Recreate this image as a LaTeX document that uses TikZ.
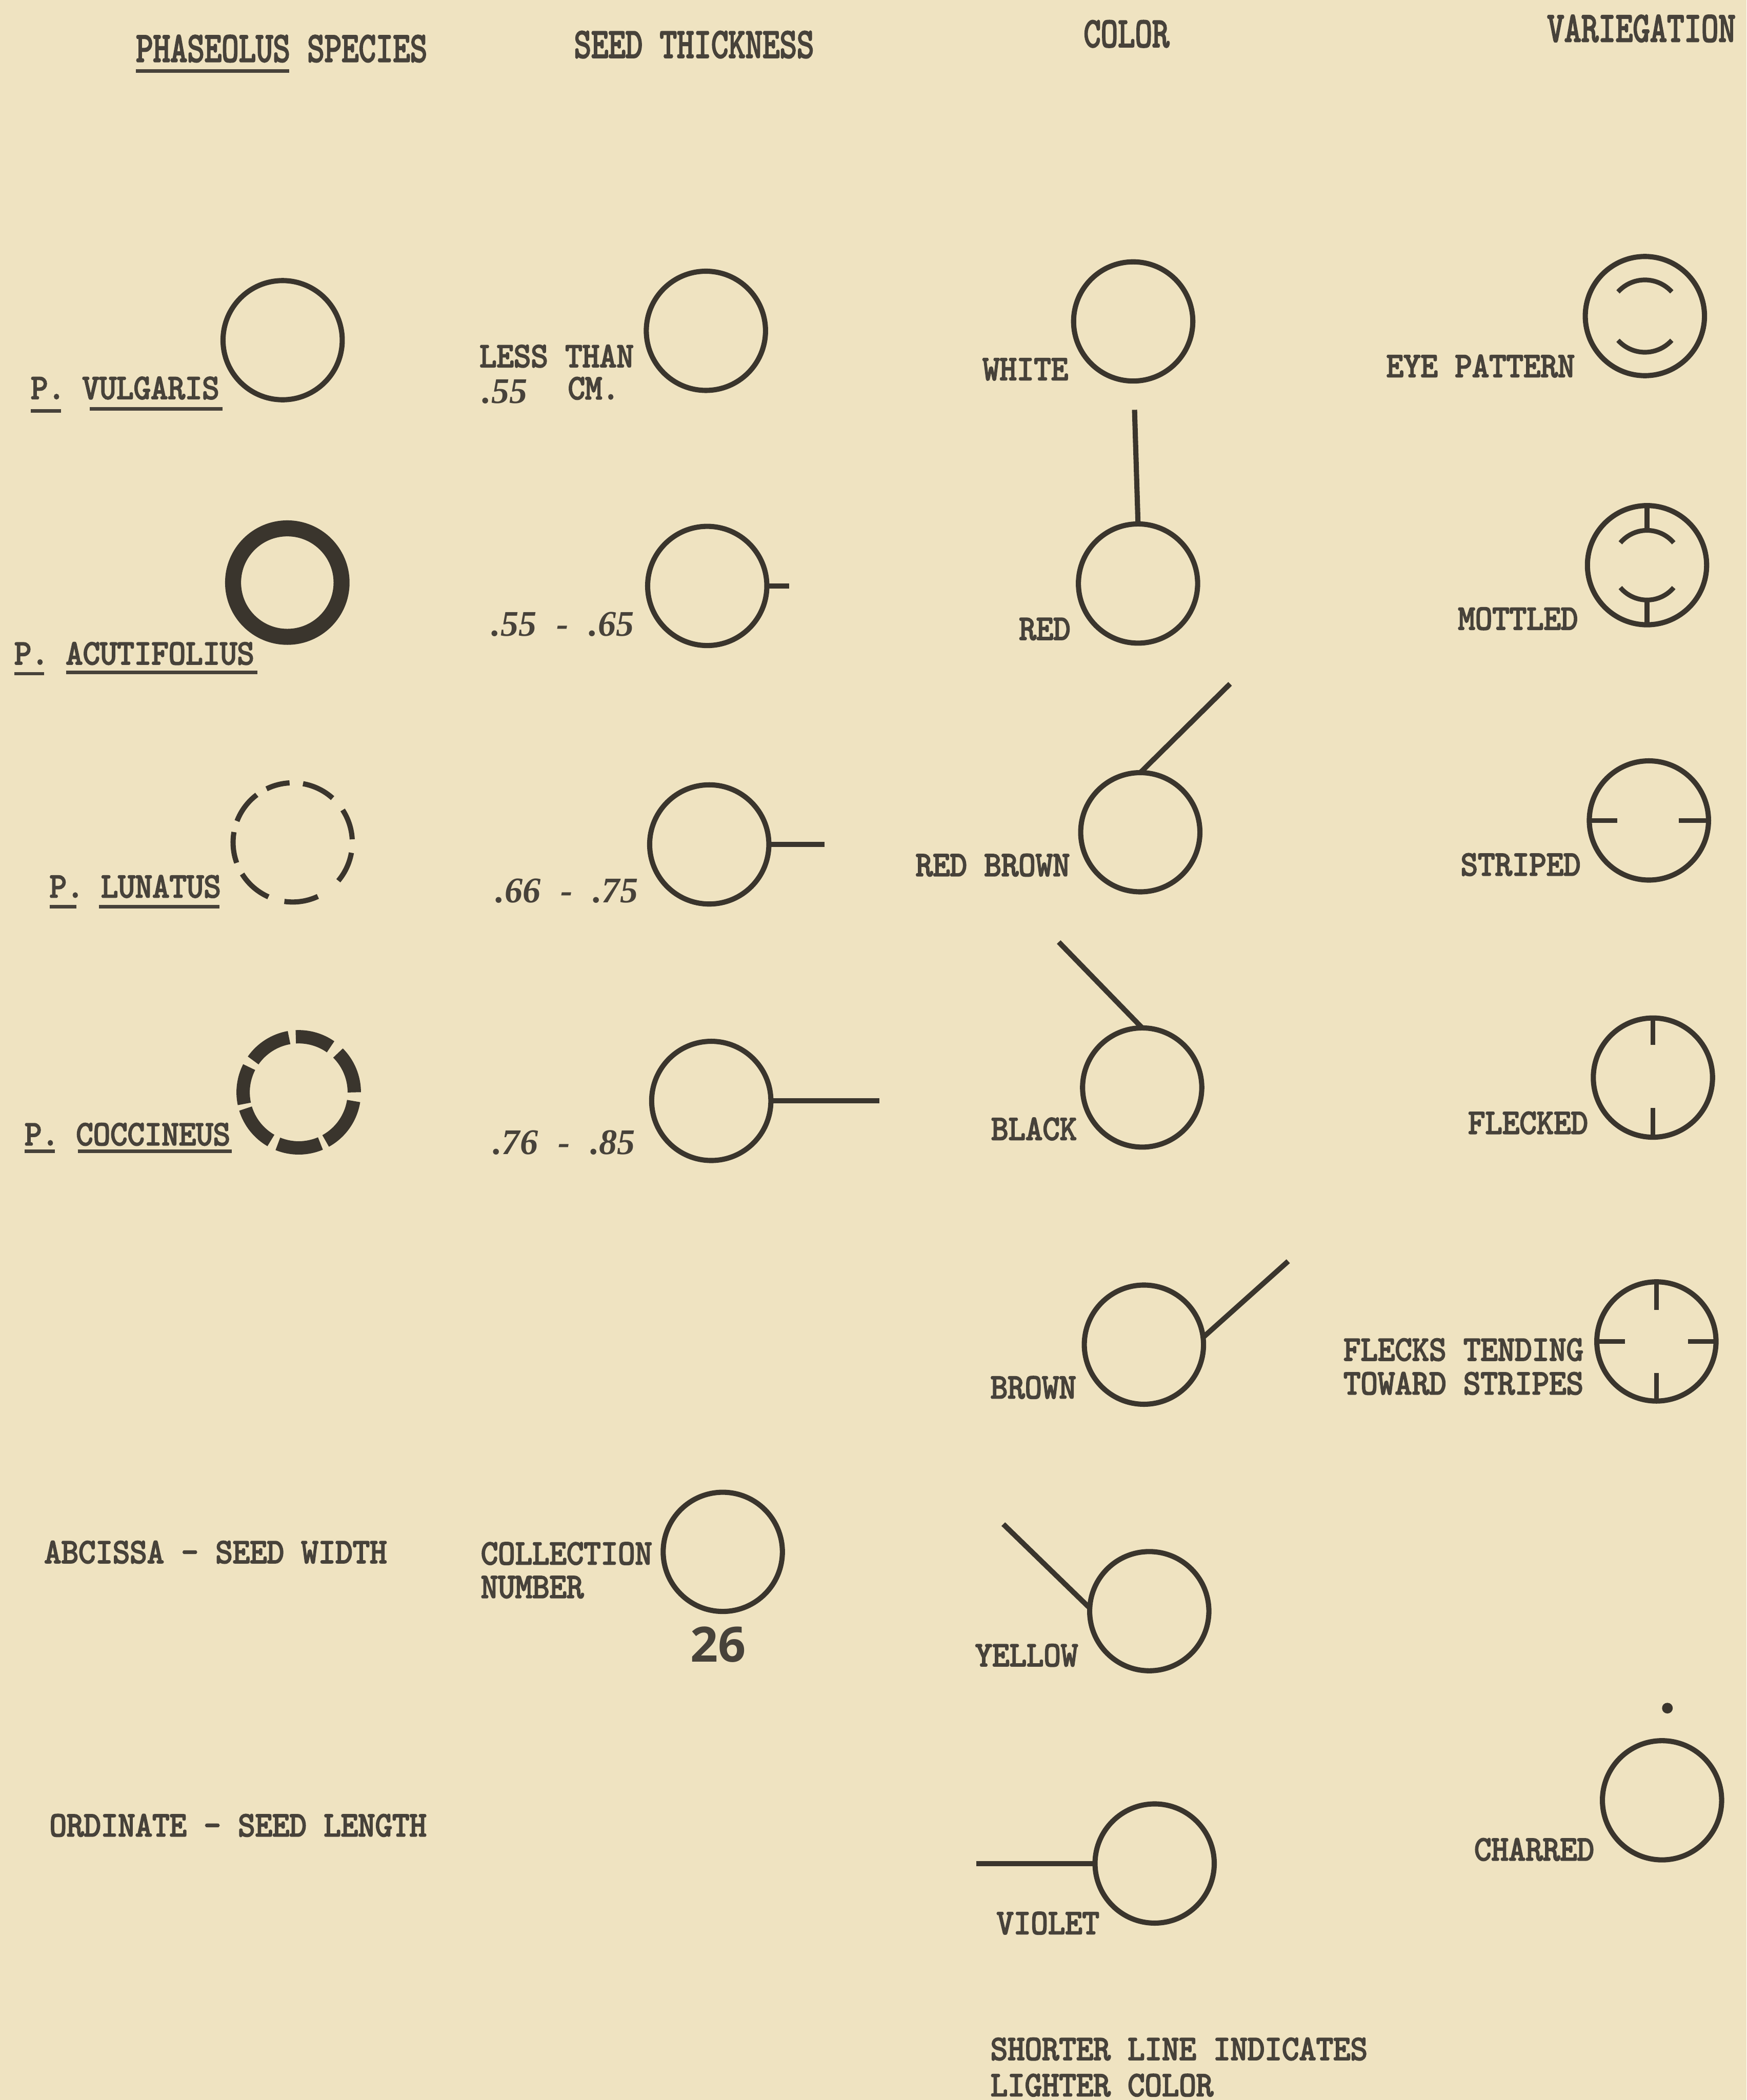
\documentclass[tikz,border=0pt]{standalone}
\usepackage{fontspec}
\usepackage{graphicx}
\usetikzlibrary{calc}
\newfontfamily\twf{lmmono10-regular.otf}[FakeBold=3.6]
\newfontfamily\seriff{Liberation Serif}
\newfontfamily\sansf{Open Sans}
\definecolor{paper}{HTML}{EFE3C1}
\definecolor{ink}{HTML}{3A352D}
\definecolor{txt}{HTML}{47423A}
\newcommand{\twlab}[1]{\scalebox{1}[1.08]{#1}}
\newcommand{\hdtall}[1]{\scalebox{1}[1.3]{#1}}
\newcommand{\rnglab}[2]{#1\makebox[1.17cm]{-}#2}
\tikzset{
  lbl/.style={anchor=base west, inner sep=0, outer sep=0, text=txt,
    font=\fontsize{20.8}{22}\selectfont\twf},
  numl/.style={anchor=base west, inner sep=0, outer sep=0, text=txt,
    font=\fontsize{23}{25}\selectfont\seriff\bfseries\itshape},
  seed/.style={circle, draw=ink, line width=3.3pt, minimum size=2.67cm, inner sep=0, outer sep=0},
  ghost/.style={circle, minimum size=2.67cm, inner sep=0, outer sep=0},
  stem/.style={draw=ink, line width=3.3pt},
  tickmark/.style={draw=ink, line width=3pt},
  uline/.style={draw=txt, line width=2.2pt},
}
\begin{document}
\begin{tikzpicture}[x=0.03cm,y=0.03cm]
\fill[paper] (0,0) rectangle (1304,-1568);
\useasboundingbox (0,0) rectangle (1304,-1568);

% headers
\node[lbl] (h1) at (101.5,-46) {\hdtall{PHASEOLUS SPECIES}};
\draw[uline] ([shift={(0,-7)}]h1.base west) -- ++(114.5,0);
\node[lbl] (h2) at (428.6,-43) {\hdtall{SEED THICKNESS}};
\node[lbl] (h3) at (809,-35) {\hdtall{COLOR}};
\node[lbl] (h4) at (1155,-31) {\hdtall{VARIEGATION}};

% column 1: species
\node[seed] (vulg) at (211,-254) {};
\node[lbl] (vulgL) at (23,-297.8) {\twlab{P. VULGARIS}};
\draw[uline] ([shift={(0,-9)}]vulgL.base west) -- ++(22.6,0);
\draw[uline] ([shift={(44,-7.5)}]vulgL.base west) -- ++(99,0);

\node[seed, line width=10.2pt, minimum size=2.43cm] (acut) at (214.5,-435) {};
\node[lbl] (acutL) at (10.7,-496) {\twlab{P. ACUTIFOLIUS}};
\draw[uline] ([shift={(0,-7)}]acutL.base west) -- ++(22.3,0);
\draw[uline] ([shift={(38.8,-6)}]acutL.base west) -- ++(142.5,0);

\node[ghost] (luna) at (218.5,-629) {};
\foreach \a/\b in {3/33,48/80,93/116,127/159,170/200,212/246,262/295,320/350}
  \draw[ink, line width=3.3pt] (luna.center) ++(\a:44.5) arc[start angle=\a, end angle=\b, radius=44.5];
\node[lbl] (lunaL) at (37,-670) {\twlab{P. LUNATUS}};
\draw[uline] ([shift={(0,-7)}]lunaL.base west) -- ++(20,0);
\draw[uline] ([shift={(37,-7)}]lunaL.base west) -- ++(90,0);

\node[ghost] (cocc) at (223,-815.6) {};
\foreach \a/\b in {0/45,55/93,100/145,153/192,197/240,248/293,299/351}
  \draw[ink, line width=8.5pt] (cocc.center) ++(\a:41.5) arc[start angle=\a, end angle=\b, radius=41.5];
\node[lbl] (coccL) at (18.4,-855) {\twlab{P. COCCINEUS}};
\draw[uline] ([shift={(0,-4.5)}]coccL.base west) -- ++(22.4,0);
\draw[uline] ([shift={(39.6,-4.5)}]coccL.base west) -- ++(115,0);

\node[lbl] (absc) at (33,-1167) {\twlab{ABCISSA - SEED WIDTH}};
\node[lbl] (ordi) at (37,-1371) {\twlab{ORDINATE - SEED LENGTH}};

% column 2: seed thickness
\node[seed] (t1) at (527,-247) {};
\node[lbl] (t1a) at (358,-274) {\twlab{LESS THAN}};
\node[numl] (t1b) at (360,-301) {.55};
\node[lbl] (t1c) at (424,-298) {\twlab{CM.}};

\node[seed] (t2) at (528,-437.5) {};
\coordinate (t2e) at (589,-437.5);
\draw[stem] (t2.east) -- (t2e);
\node[numl] (t2L) at (367,-475) {\rnglab{.55}{.65}};

\node[seed] (t3) at (529.5,-630.5) {};
\coordinate (t3e) at (615.5,-630.5);
\draw[stem] (t3.east) -- (t3e);
\node[numl] (t3L) at (370,-674) {\rnglab{.66}{.75}};

\node[seed] (t4) at (531,-822) {};
\coordinate (t4e) at (656.7,-822);
\draw[stem] (t4.east) -- (t4e);
\node[numl] (t4L) at (368,-862) {\rnglab{.76}{.85}};

\node[seed] (coll) at (539.6,-1158.7) {};
\node[lbl] (collA) at (359,-1168) {\twlab{COLLECTION}};
\node[lbl] (collB) at (359,-1193) {\twlab{NUMBER}};
\node[anchor=base, inner sep=0, text=txt, font=\fontsize{31}{33}\selectfont\sansf\bfseries] (num) at (536,-1241) {26};

% column 3: color
\node[seed] (white) at (846,-240) {};
\node[lbl] (whiteL) at (733.5,-283.7) {\twlab{WHITE}};

\node[seed] (red) at (849.6,-435.7) {};
\coordinate (rede) at (847,-306);
\draw[stem] (red.north) -- (rede);
\node[lbl] (redL) at (760.8,-477.6) {\twlab{RED}};

\node[seed] (rb) at (851.3,-621.4) {};
\coordinate (rbe) at (918.3,-510.6);
\draw[stem] (rb.north) -- (rbe);
\node[lbl] (rbL) at (683.6,-654) {\twlab{RED BROWN}};

\node[seed] (black) at (852.7,-812) {};
\coordinate (blacke) at (790.4,-703.4);
\draw[stem] (black.north) -- (blacke);
\node[lbl] (blackL) at (740,-851) {\twlab{BLACK}};

\node[seed] (brown) at (854,-1004) {};
\coordinate (browne) at (961.7,-941.7);
\draw[stem] (brown.7) -- (browne);
\node[lbl] (brownL) at (739.5,-1044) {\twlab{BROWN}};

\node[seed] (yellow) at (858,-1203) {};
\coordinate (yellowe) at (749,-1138);
\draw[stem] (yellow.177) -- (yellowe);
\node[lbl] (yellowL) at (728,-1244) {\twlab{YELLOW}};

\node[seed] (violet) at (862,-1391.4) {};
\coordinate (violete) at (728.7,-1391.4);
\draw[stem] (violet.west) -- (violete);
\node[lbl] (violetL) at (744,-1444) {\twlab{VIOLET}};

\node[lbl] (noteA) at (739.5,-1538) {\twlab{SHORTER LINE INDICATES}};
\node[lbl] (noteB) at (739.5,-1565) {\twlab{LIGHTER COLOR}};

% column 4: variegation
\node[seed] (eye) at (1228,-236) {};
\draw[tickmark] (eye.center) ++(42:27) arc[start angle=42, end angle=138, radius=27];
\draw[tickmark] (eye.center) ++(222:27) arc[start angle=222, end angle=318, radius=27];
\node[lbl] (eyeL) at (1035,-281.4) {\twlab{EYE PATTERN}};

\node[seed] (mott) at (1229.6,-422) {};
\draw[tickmark] (mott.center) ++(40:26) arc[start angle=40, end angle=140, radius=26];
\draw[tickmark] (mott.center) ++(220:26) arc[start angle=220, end angle=320, radius=26];
\draw[tickmark] (mott.north) -- ($(mott.center)+(0,26)$);
\draw[tickmark] (mott.south) -- ($(mott.center)+(0,-26)$);
\node[lbl] (mottL) at (1088.5,-470) {\twlab{MOTTLED}};

\node[seed] (strp) at (1231,-612.6) {};
\draw[tickmark] (strp.west) -- ++(21,0);
\draw[tickmark] (strp.east) -- ++(-22,0);
\node[lbl] (strpL) at (1090.5,-653.6) {\twlab{STRIPED}};

\node[seed] (flek) at (1234,-804.6) {};
\draw[tickmark] (flek.north) -- ++(0,-20);
\draw[tickmark] (flek.south) -- ++(0,22);
\node[lbl] (flekL) at (1096,-846.5) {\twlab{FLECKED}};

\node[seed] (fts) at (1236.6,-1001.6) {};
\draw[tickmark] (fts.north) -- ++(0,-21);
\draw[tickmark] (fts.south) -- ++(0,21);
\draw[tickmark] (fts.west) -- ++(21,0);
\draw[tickmark] (fts.east) -- ++(-21,0);
\node[lbl] (ftsA) at (1003,-1015.8) {\twlab{FLECKS TENDING}};
\node[lbl] (ftsB) at (1003,-1041) {\twlab{TOWARD STRIPES}};

\node[seed] (char) at (1240.8,-1344.2) {};
\node[circle, fill=ink, minimum size=0.24cm, inner sep=0] (dot) at (1244.8,-1275.4) {};
\node[lbl] (charL) at (1100.6,-1389) {\twlab{CHARRED}};
\end{tikzpicture}
\end{document}
